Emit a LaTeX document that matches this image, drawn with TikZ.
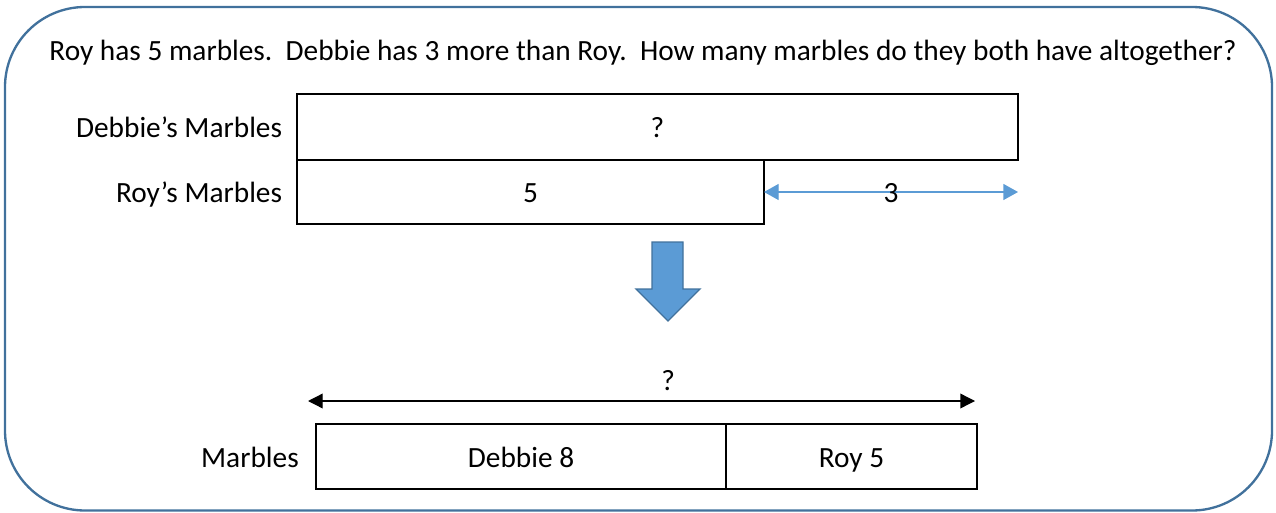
\documentclass[tikz,border=0pt]{standalone}
\usepackage{fontspec}
\setmainfont{Carlito}
\usepackage{tikz}
\usetikzlibrary{arrows.meta,positioning}
\definecolor{framesteel}{RGB}{65,113,156}
\definecolor{officeblue}{RGB}{91,155,213}

\begin{document}
\begin{tikzpicture}[
      x=0.75pt, y=-0.75pt,
      every node/.style={font=\fontsize{22}{26}\selectfont, text height=22pt, text depth=5.5pt},
      bar/.style={draw=black, line width=1.5pt, outer sep=0pt, inner sep=0pt,
                  minimum height=49.5pt},
      lbl/.style={inner sep=0pt},
      frame/.style={draw=framesteel, line width=1.75pt, rounded corners=60pt},
      gaparrow/.style={{Triangle[length=11pt,width=12pt]}-{Triangle[length=11pt,width=12pt]},
                  line width=1pt, draw=officeblue},
      totarrow/.style={{Triangle[length=11pt,width=11pt]}-{Triangle[length=11pt,width=11pt]},
                  line width=1pt, draw=black},
      blockarrow/.style={fill=officeblue, draw=framesteel, line width=1pt}
    ]
      \useasboundingbox (0,0) rectangle (1276,513);

      % --- outer rounded frame ---
      \draw[frame] (5,7) rectangle (1272,510.5);

      % --- word problem ---
      \node[anchor=base] (question) at (643,61)
        {Roy has 5 marbles.~~Debbie has 3 more than Roy.~~How many marbles do they both have altogether?};

      % --- comparison bars ---
      \node[bar, minimum width=540.75pt, anchor=north west] (debbiebar) at (297,94) {?};
      \node[bar, minimum width=350.25pt, minimum height=48pt, anchor=north west] (roybar) at (debbiebar.south west) {5};
      \node[lbl, left=11pt of debbiebar] (debbielbl) {Debbie’s Marbles};
      \node[lbl, left=11pt of roybar]    (roylbl)    {Roy’s Marbles};

      \draw[gaparrow] (roybar.east) -- (roybar.east -| debbiebar.east) node[midway] (gaplbl) {3};

      % --- block arrow down ---
      \draw[blockarrow] (652,242) -- (683,242) -- (683,289) -- (700,289) -- (668,321) -- (636,289) -- (652,289) -- cycle;

      % --- part-whole bar ---
      \node[bar, minimum width=307.5pt, minimum height=48.75pt, anchor=north west] (debbieseg) at (316,424) {Debbie 8};
      \node[bar, minimum width=188.25pt, minimum height=48.75pt, anchor=north west] (royseg) at (debbieseg.north east) {Roy 5};
      \node[lbl, left=12.75pt of debbieseg] (marbleslbl) {Marbles};

      \coordinate (totleft)  at (308,401);
      \coordinate (totright) at (975,401);
      \draw[totarrow] (totleft) -- (totright) node[lbl, pos=0.54, above=2pt] (totlbl) {?};
    \end{tikzpicture}
\end{document}
